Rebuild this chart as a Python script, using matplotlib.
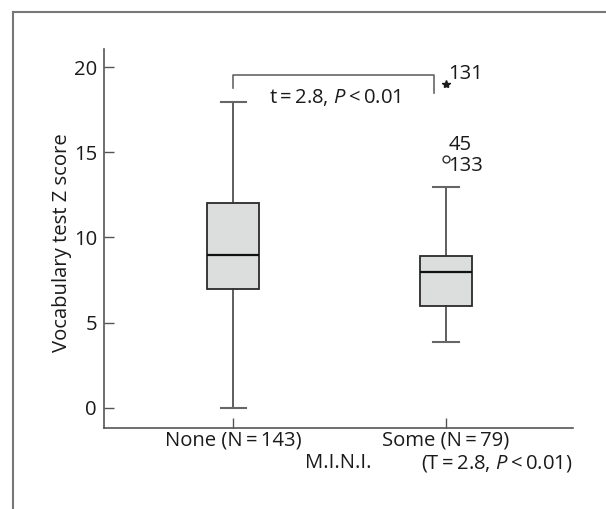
#!/usr/bin/env python3
"""Box plot of vocabulary test Z score by M.I.N.I. group, saved as out.png."""

import matplotlib
matplotlib.use("Agg")  # headless
import matplotlib.pyplot as plt
from matplotlib.lines import Line2D

# --- data ---
groups = ["None (N\u2009=\u2009143)", "Some (N\u2009=\u200979)"]
positions = [1, 2]
q1 = [7.0, 5.95]
medians = [9.0, 7.95]
q3 = [12.0, 8.9]
whisk_lo = [0.0, 3.85]
whisk_hi = [17.95, 12.95]

# outliers (circle) and extremes (star), with their case labels
outlier_x = [2]
outlier_y = [14.6]
extreme_x = [2]
extreme_y = [19.0]
case_labels = ["131", "45", "133"]
case_label_y = [19.6, 15.45, 14.2]

bracket_y = 19.55
bracket_left_end = 18.8
bracket_right_end = 18.45

plt.rcParams["font.family"] = ["Open Sans", "DejaVu Sans"]
plt.rcParams["mathtext.fontset"] = "custom"
plt.rcParams["mathtext.rm"] = "Open Sans"
plt.rcParams["mathtext.it"] = "Open Sans:italic"

TEXT = "#1a1a1a"
LINE = "#555555"
FS = 14.6

fig = plt.figure(figsize=(6.06, 5.09), dpi=100)
ax = fig.add_axes([104 / 606, 1 - 428 / 509, (573 - 104) / 606, (428 - 49) / 509])

stats = []
for i in range(len(groups)):
    stats.append({
        "q1": q1[i], "med": medians[i], "q3": q3[i],
        "whislo": whisk_lo[i], "whishi": whisk_hi[i], "fliers": [],
    })

ax.bxp(
    stats,
    positions=positions,
    widths=0.245,
    capwidths=0.122,
    patch_artist=True,
    showfliers=False,
    boxprops=dict(facecolor="#dcdddd", edgecolor="#2a2a2a", linewidth=1.3),
    medianprops=dict(color="#111111", linewidth=1.6),
    whiskerprops=dict(color="#333333", linewidth=1.1),
    capprops=dict(color="#666666", linewidth=1.5),
)

ax.plot(outlier_x, outlier_y, linestyle="none", marker="o", markersize=5,
        markerfacecolor="white", markeredgecolor="#333333", markeredgewidth=1.0)
ax.plot(extreme_x, extreme_y, linestyle="none", marker="*", markersize=6,
        color="#1a1a1a")

# case numbers next to outliers
for lab, y in zip(case_labels, case_label_y):
    ax.text(2.012, y, lab, fontsize=FS, color=TEXT, ha="left", va="center")

# significance bracket
ax.plot([1, 1, 1.945, 1.945],
        [bracket_left_end, bracket_y, bracket_y, bracket_right_end],
        color="#666666", linewidth=1.2)
ax.text(1.48, 18.2, "t\u2009=\u20092.8, $P$\u2009<\u20090.01", fontsize=FS,
        color=TEXT, ha="center", va="center")

ax.set_xlim(0.39, 2.6)
ax.set_ylim(-1.18, 21.06)
ax.set_yticks([0, 5, 10, 15, 20])
ax.set_xticks(positions)
ax.set_xticklabels(groups)
ax.tick_params(direction="in", length=7, width=1.0, color=LINE,
               labelsize=FS, labelcolor=TEXT)
ax.tick_params(axis="y", pad=5)
ax.tick_params(axis="x", pad=2)

for side in ("top", "right"):
    ax.spines[side].set_visible(False)
for side in ("left", "bottom"):
    ax.spines[side].set_color(LINE)
    ax.spines[side].set_linewidth(1.2)

ax.set_ylabel("Vocabulary test Z score", fontsize=FS, color=TEXT, va="center")
ax.yaxis.set_label_coords((62 - 104) / 469, 0.49)
ax.set_xlabel("M.I.N.I.", fontsize=FS, color=TEXT, va="center")
ax.xaxis.set_label_coords(0.5, -0.093)
ax.text(1.885, -0.093, "(T\u2009=\u20092.8, $P$\u2009<\u20090.01)", fontsize=FS,
        color=TEXT, ha="left", va="center",
        transform=ax.get_xaxis_transform())

# open frame around the figure (top and left edges only)
fig.add_artist(Line2D([13 / 606, 1], [1 - 12 / 509, 1 - 12 / 509],
                      transform=fig.transFigure, color="#777777", linewidth=1.5))
fig.add_artist(Line2D([13 / 606, 13 / 606], [0, 1 - 12 / 509],
                      transform=fig.transFigure, color="#777777", linewidth=1.5))

fig.savefig("out.png", dpi=100)
